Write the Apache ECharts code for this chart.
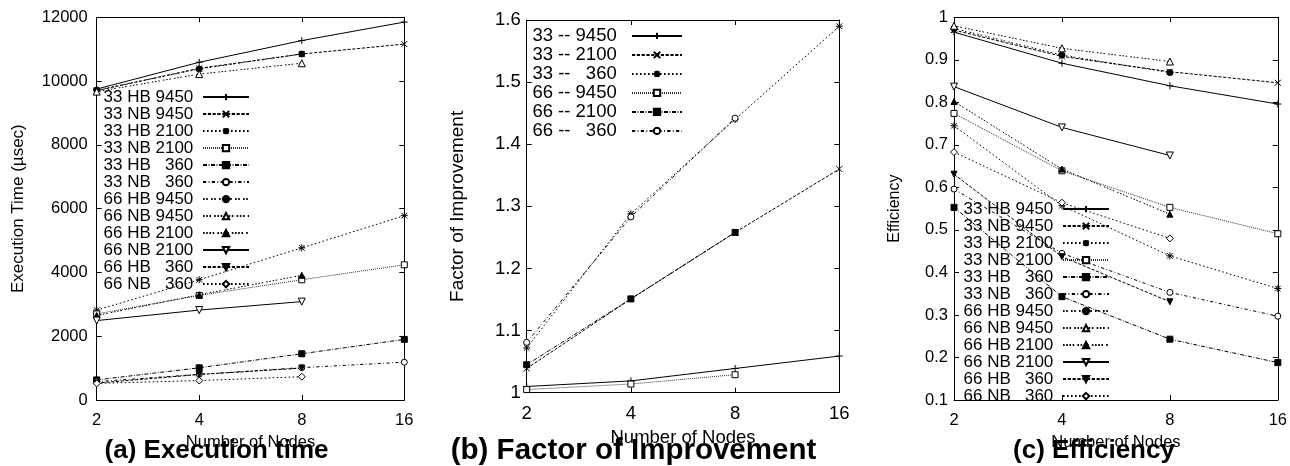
<!DOCTYPE html>
<html>
<head>
<meta charset="utf-8">
<script src="https://cdn.jsdelivr.net/npm/echarts@6/dist/echarts.min.js"></script>
<style>
  html, body { margin: 0; padding: 0; background: #fff; }
</style>
</head>
<body>
<div id="myChart" style="width: 1290px; height: 466px;"></div>
<script>
// x axis (log2 spaced, drawn as categories)
const nodes = ['2', '4', '8', '16'];

// legend labels
const runNames = ['33 HB 9450', '33 NB 9450', '33 HB 2100', '33 NB 2100', '33 HB   360', '33 NB   360',
                  '66 HB 9450', '66 NB 9450', '66 HB 2100', '66 NB 2100', '66 HB   360', '66 NB   360'];
const factorNames = ['33 -- 9450', '33 -- 2100', '33 --   360', '66 -- 9450', '66 -- 2100', '66 --   360'];

// (a) execution time, usec
const t33HB9450 = [9750, 10590, 11270, 11850];
const t33NB9450 = [9700, 10400, 10850, 11160];
const t33HB2100 = [2820, 3770, 4770, 5780];
const t33NB2100 = [2700, 3280, 3770, 4240];
const t33HB360 = [630, 1010, 1450, 1900];
const t33NB360 = [575, 805, 1015, 1185];
const t66HB9450 = [9720, 10380, 10850];
const t66NB9450 = [9670, 10220, 10560];
const t66HB2100 = [2650, 3300, 3910];
const t66NB2100 = [2490, 2820, 3085];
const t66HB360 = [530, 800, 1000];
const t66NB360 = [520, 610, 730];

// (b) factor of improvement
const f33r9450 = [1.010, 1.019, 1.039, 1.059];
const f33r2100 = [1.039, 1.151, 1.258, 1.360];
const f33r360 = [1.072, 1.288, 1.440, 1.590];
const f66r9450 = [1.005, 1.014, 1.029];
const f66r2100 = [1.045, 1.151, 1.258];
const f66r360 = [1.081, 1.283, 1.442];

// (c) efficiency
const e33HB9450 = [0.965, 0.892, 0.839, 0.796];
const e33NB9450 = [0.970, 0.908, 0.872, 0.846];
const e33HB2100 = [0.745, 0.557, 0.439, 0.362];
const e33NB2100 = [0.774, 0.639, 0.553, 0.491];
const e33HB360 = [0.553, 0.343, 0.243, 0.188];
const e33NB360 = [0.596, 0.445, 0.353, 0.297];
const e66HB9450 = [0.974, 0.911, 0.870];
const e66NB9450 = [0.980, 0.927, 0.896];
const e66HB2100 = [0.802, 0.643, 0.537];
const e66NB2100 = [0.837, 0.741, 0.675];
const e66HB360 = [0.631, 0.437, 0.331];
const e66NB360 = [0.683, 0.564, 0.480];

const timeData = [t33HB9450, t33NB9450, t33HB2100, t33NB2100, t33HB360, t33NB360,
                  t66HB9450, t66NB9450, t66HB2100, t66NB2100, t66HB360, t66NB360];
const factorData = [f33r9450, f33r2100, f33r360, f66r9450, f66r2100, f66r360];
const effData = [e33HB9450, e33NB9450, e33HB2100, e33NB2100, e33HB360, e33NB360,
                 e66HB9450, e66NB9450, e66HB2100, e66NB2100, e66HB360, e66NB360];

const FONT = 'Liberation Sans, Arial, Helvetica, sans-serif';

// gnuplot postscript dash patterns, cycled
const dashes = [null, [4, 2], [2, 3], [1, 1.5], [5, 2, 1, 2], [4, 3, 1, 3], [2, 2, 2, 4], [2, 2, 2, 2, 2, 4], [2, 2, 2, 2, 2, 2, 2, 4]];
const PLUS = 'path://M0,5L10,5M5,0L5,10';
const CROSS = 'path://M0,0L10,10M10,0L0,10';
const STAR = 'path://M0,5L10,5M5,0L5,10M1,1L9,9M9,1L1,9';
const points = [
  [PLUS, 0, true, 7], [CROSS, 0, true, 6], [STAR, 0, true, 7],
  ['rect', 0, false, 6], ['rect', 0, true, 6],
  ['circle', 0, false, 6], ['circle', 0, true, 6],
  ['triangle', 0, false, 7], ['triangle', 0, true, 6],
  ['triangle', 180, false, 7], ['triangle', 180, true, 6],
  ['diamond', 0, false, 7]
];

function lineSeries(name, data, i, gi) {
  const p = points[i % points.length];
  const d = dashes[i % dashes.length];
  return {
    type: 'line',
    name: name,
    data: data,
    xAxisIndex: gi * 2,
    yAxisIndex: gi * 2,
    symbol: p[0],
    symbolRotate: p[1],
    symbolSize: p[3],
    showSymbol: true,
    animation: false,
    silent: true,
    lineStyle: { color: '#000', width: 1, type: d ? d.map(v => v * 0.8) : 'solid' },
    itemStyle: { color: p[2] ? '#000' : '#fff', borderColor: '#000', borderWidth: 1, opacity: 1 }
  };
}

function xAxes(gi, fs, margin, gap) {
  const common = {
    type: 'category', data: nodes, boundaryGap: false, gridIndex: gi,
    axisLine: { show: true, onZero: false, lineStyle: { color: '#000', width: 1 } },
    axisTick: { show: true, inside: true, length: 5, interval: 0, lineStyle: { color: '#000' } },
    splitLine: { show: false }
  };
  return [
    Object.assign({}, common, {
      position: 'bottom',
      axisLabel: { color: '#000', fontSize: fs, fontFamily: FONT, margin: margin, interval: 0 },
      name: 'Number of Nodes', nameLocation: 'middle', nameGap: gap,
      nameTextStyle: { color: '#000', fontSize: fs, fontFamily: FONT }
    }),
    Object.assign({}, common, { position: 'top', axisLabel: { show: false } })
  ];
}

function yAxes(gi, min, max, interval, name, fs, nfs, margin, gap) {
  const common = {
    type: 'value', min: min, max: max, interval: interval, gridIndex: gi,
    axisLine: { show: true, onZero: false, lineStyle: { color: '#000', width: 1 } },
    axisTick: { show: true, inside: true, length: 5, lineStyle: { color: '#000' } },
    splitLine: { show: false }
  };
  return [
    Object.assign({}, common, {
      position: 'left',
      axisLabel: { color: '#000', fontSize: fs, fontFamily: FONT, margin: margin,
                   formatter: v => String(+(+v).toFixed(6)) },
      name: name, nameLocation: 'middle', nameRotate: 90, nameGap: gap,
      nameTextStyle: { color: '#000', fontSize: nfs, fontFamily: FONT }
    }),
    Object.assign({}, common, { position: 'right', axisLabel: { show: false } })
  ];
}

function legend(names, left, top, fs, rowH, w, pad) {
  return {
    orient: 'vertical', align: 'right', left: left, top: top, padding: 0,
    itemWidth: w, itemHeight: 8, itemGap: 0, selectedMode: false,
    data: names,
    formatter: name => name + pad,
    textStyle: { color: '#000', fontSize: fs, lineHeight: rowH, fontFamily: FONT }
  };
}

const series = [];
runNames.forEach((n, i) => series.push(lineSeries(n, timeData[i], i, 0)));
factorNames.forEach((n, i) => series.push(lineSeries(n, factorData[i], i, 1)));
runNames.forEach((n, i) => series.push(lineSeries(n, effData[i], i, 2)));

function title(text, x, fs) {
  return {
    type: 'text', x: x, y: 451, z: 100,
    style: { text: text, fill: '#000', fontSize: fs, fontWeight: 'bold', fontFamily: FONT,
             textAlign: 'center', textVerticalAlign: 'middle' }
  };
}

const myChart = echarts.init(document.getElementById('myChart'));
myChart.setOption({
  backgroundColor: '#fff',
  animation: false,
  grid: [
    { left: 96.7, top: 17.3, width: 307.6, height: 382.7 },
    { left: 526.7, top: 20, width: 312.6, height: 372.7 },
    { left: 954, top: 17.3, width: 328.3, height: 382.7 }
  ],
  xAxis: [].concat(xAxes(0, 16.5, 12, 34), xAxes(1, 18.5, 12, 23), xAxes(2, 16.5, 12, 34)),
  yAxis: [].concat(
    yAxes(0, 0, 12000, 2000, 'Execution Time (\u00b5sec)', 16.5, 17, 9, 70),
    yAxes(1, 1, 1.6, 0.1, 'Factor of Improvement', 18.5, 19, 6, 59),
    yAxes(2, 0.1, 1, 0.1, 'Efficiency', 16.5, 16, 6, 51)
  ),
  legend: [
    legend(runNames, 103.5, 88.6, 17, 16.8, 46, ' '),
    legend(factorNames, 532.4, 26.4, 18.5, 18.66, 50, '  '),
    legend(runNames, 963.5, 200.6, 17, 16.8, 46, ' ')
  ],
  graphic: [
    title('(a) Execution time', 216.5, 26),
    title('(b) Factor of Improvement', 633.5, 29.5),
    title('(c) Efficiency', 1094, 26)
  ],
  series: series
});
</script>
</body>
</html>
